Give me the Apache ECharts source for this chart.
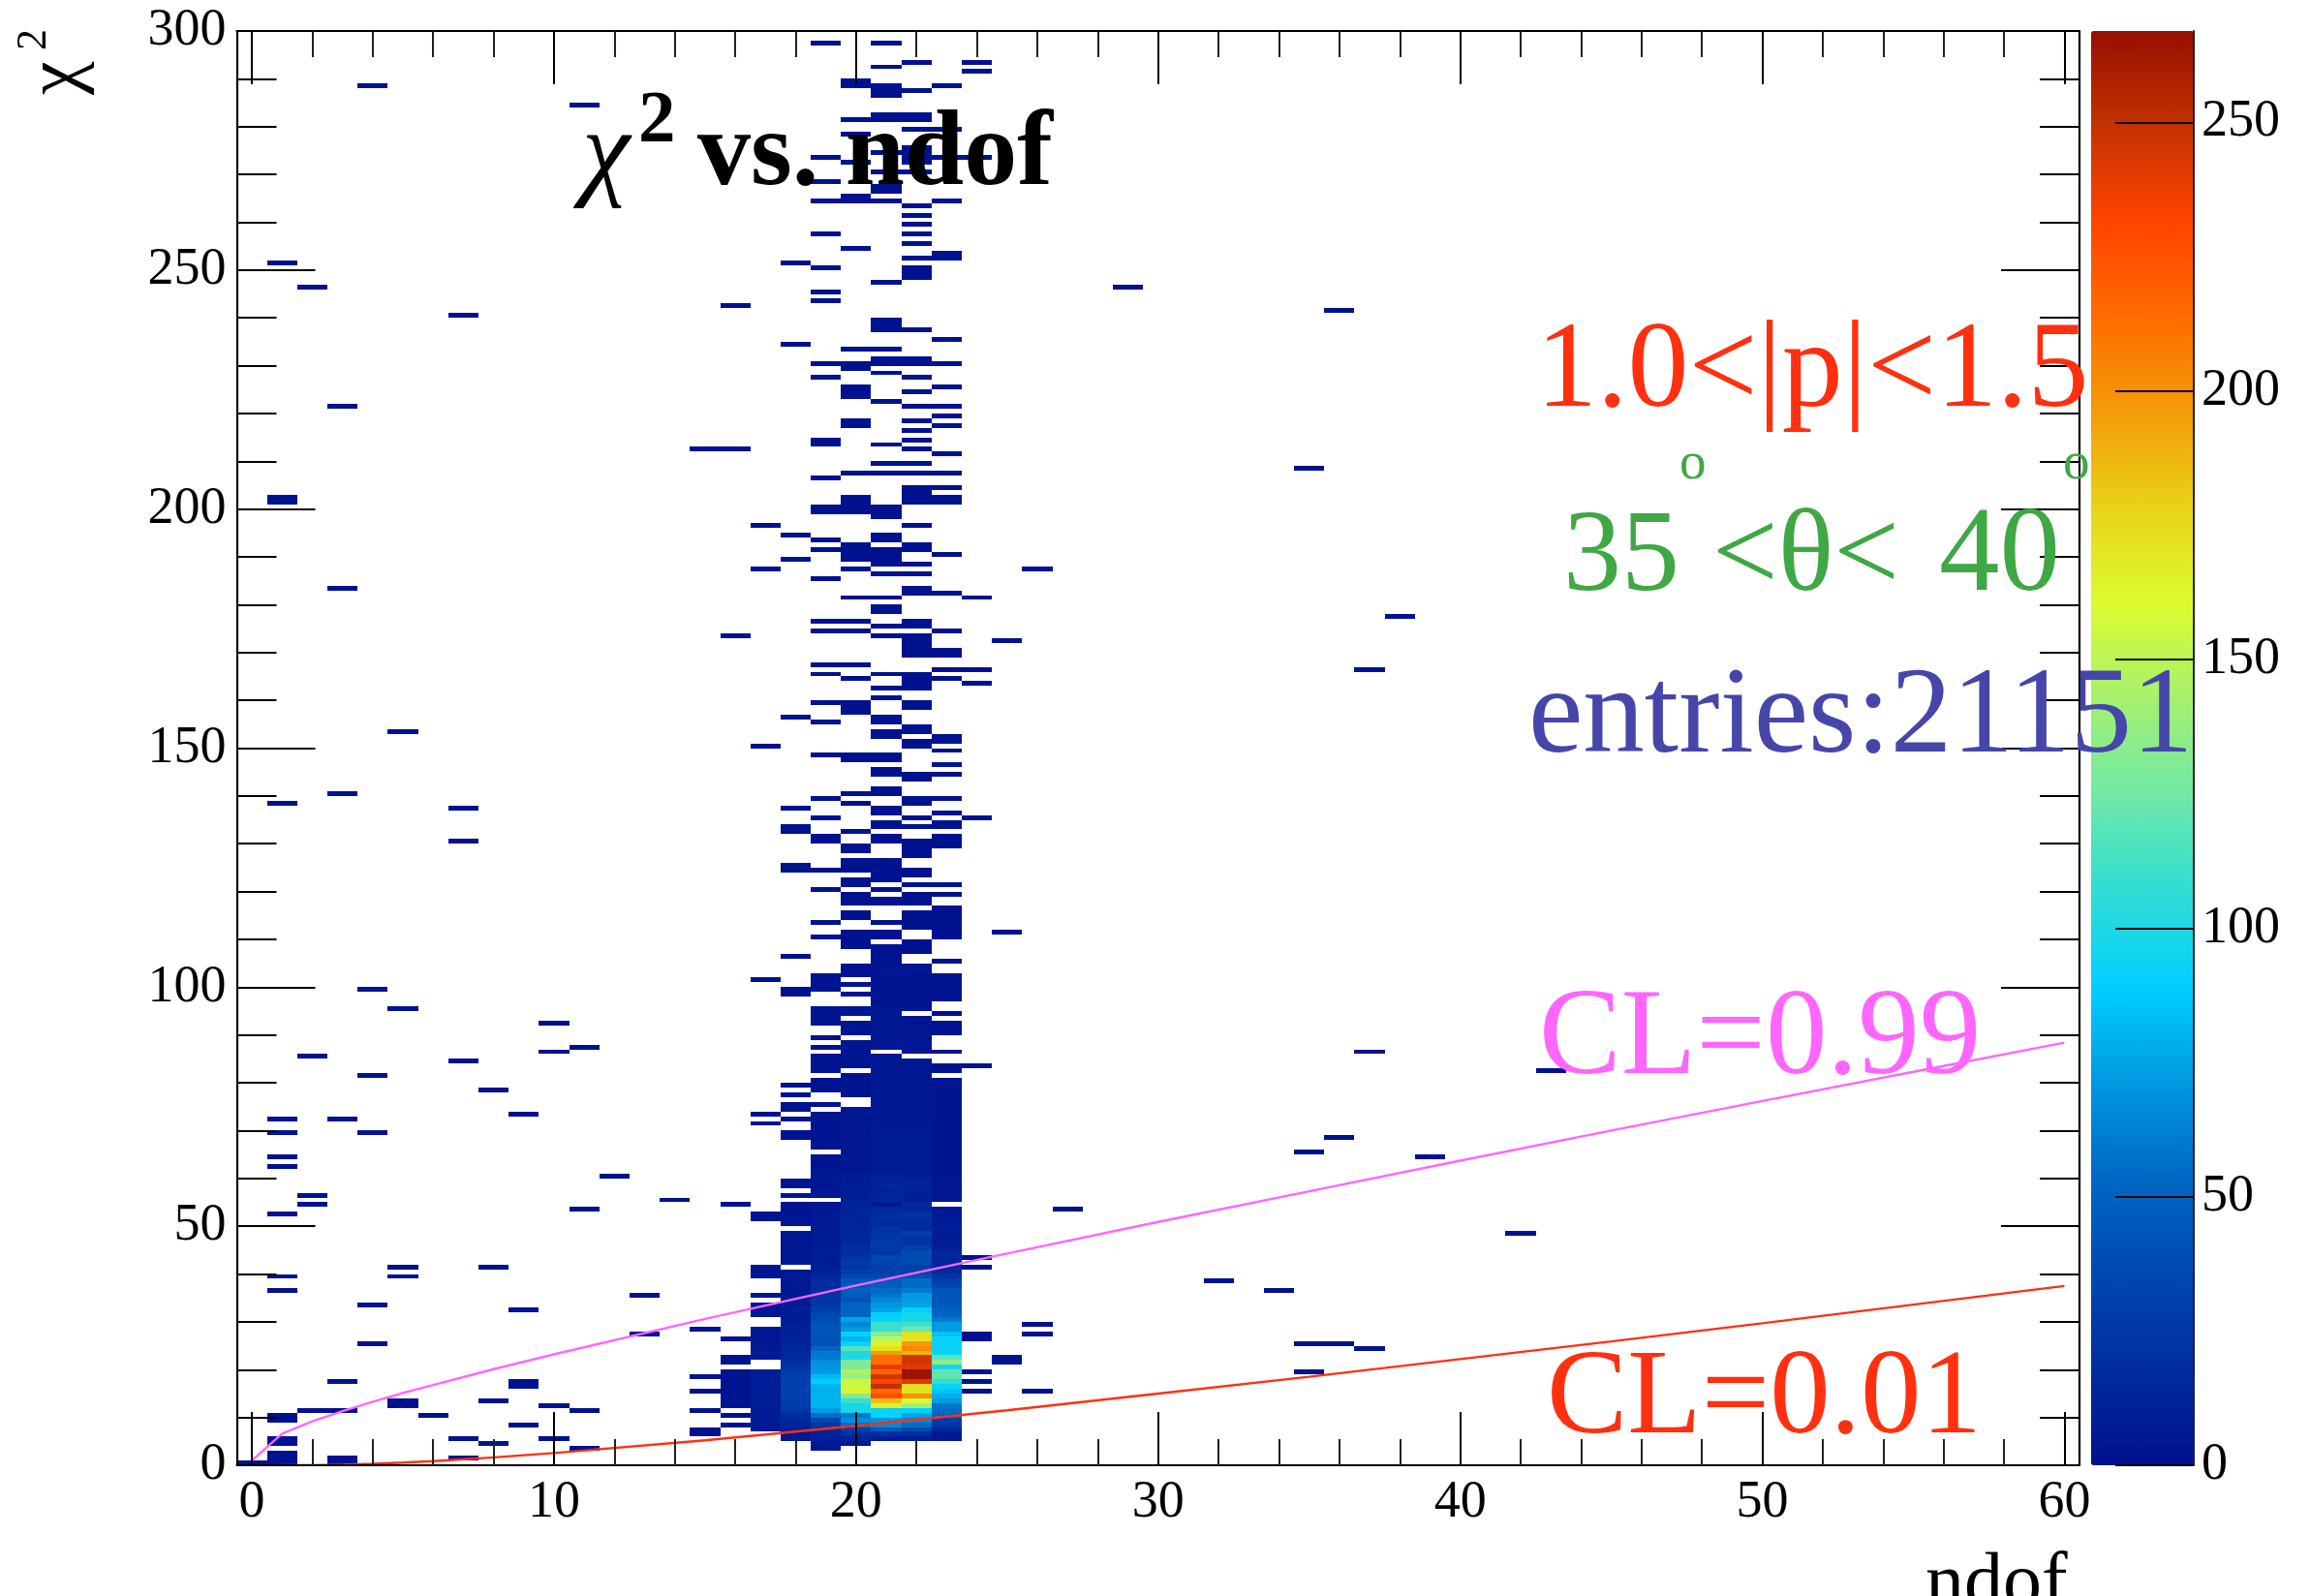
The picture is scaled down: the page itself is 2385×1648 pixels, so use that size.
<!DOCTYPE html>
<html><head><meta charset="utf-8">
<style>html,body{margin:0;padding:0;background:#fff}#c{width:2385px;height:1648px}</style>
<script src="https://cdn.jsdelivr.net/npm/echarts@6/dist/echarts.min.js"></script>
</head><body><div id="c"></div>
<script>
// ---------- DATA (chi2 rows are 1 unit tall, ndof columns are 1 unit wide) ----------
const xTickLabels=[0,10,20,30,40,50,60];
const isolatedCells=[[0,0],[1,0],[1,1],[1,2],[1,4],[1,5],[1,9],[1,10],[1,36],[1,39],[1,52],[1,62],[1,64],[1,69],[1,72],[1,138],[1,201],[1,202],[1,251],
[2,11],[2,54],[2,56],[2,85],[2,246],[3,0],[3,1],[3,11],[3,17],[3,72],[3,140],[3,183],[3,221],[4,25],[4,33],[4,69],[4,81],[4,99],[4,288],
[5,12],[5,13],[5,39],[5,41],[5,95],[5,153],[6,10],[7,1],[7,5],[7,84],[7,130],[7,137],[7,240],[8,4],[8,13],[8,41],[8,78],
[9,8],[9,16],[9,17],[9,32],[9,73],[10,5],[10,12],[10,86],[10,92],[11,3],[11,11],[11,53],[11,87],[11,284],[12,60],[13,27],[13,35],[14,55],
[15,6],[15,7],[15,11],[15,15],[15,18],[15,28],[15,212],[16,8],[16,10],[16,21],[16,22],[16,26],[16,54],[16,173],[16,212],[16,242],
[17,71],[17,73],[17,101],[17,150],[17,187],[17,196],
[24,15],[24,17],[24,19],[24,26],[24,27],[24,41],[24,43],[24,83],[24,135],[24,163],[24,166],[24,181],[24,273],[24,291],[24,293],
[25,21],[25,22],[25,111],[25,172],[26,15],[26,27],[26,29],[26,187],[27,53],[29,246],[32,38],[34,36],[35,19],[35,25],[35,65],[35,208],
[36,25],[36,68],[36,241],[37,24],[37,86],[37,166],[38,177],[39,64],[42,48],[43,82]];
const col16Rows=[12,13,14,15,16,17,18,19];
const col18Upper=[106,124,125,132,133,137,156,189,194,234,251];
const col19Upper=[110,113,120,124,130,131,135,139,148,155,159,165,167,174,176,185,191,193,199,200,206,213,214,227,230,243,245,250,257,264,268,273,297];
const col20Upper=[108,109,110,111,114,115,117,118,119,121,122,124,125,126,128,129,132,138,140,147,148,157,158,159,164,167,174,176,181,187,189,190,191,192,199,200,201,202,207,217,218,223,224,225,229,230,233,254,264,265,272,278,281,288,289];
const col21Upper=[105,106,107,108,110,111,113,117,118,120,122,123,124,125,126,130,131,133,134,136,137,140,141,144,145,147,148,152,153,155,156,160,162,165,173,175,178,179,181,186,188,189,190,191,193,194,198,199,200,207,209,213,222,228,230,231,233,237,238,239,247,264,266,267,270,274,281,282,286,287,288,292,297];
const col22Upper=[107,108,109,112,113,114,115,117,118,119,121,123,124,127,128,129,130,133,135,138,139,143,144,150,151,153,154,158,159,162,163,164,165,169,170,171,172,173,175,176,182,183,186,188,191,192,196,201,202,203,204,207,209,212,214,216,218,221,224,227,230,231,237,248,249,250,252,255,257,259,261,263,270,272,273,274,275,279,281,282,287,293];
const col23Upper=[105,110,111,112,113,114,115,116,119,121,129,130,131,133,134,136,139,144,146,149,151,152,164,166,169,170,174,182,190,201,202,204,207,211,217,219,221,225,230,235,252,253,264,273,279,288];
// mid rows: [firstRow,lastRow,count]
const col18Mid=[[68,69,2],[72,72,1],[74,75,2],[77,77,1],[79,79,1],[98,99,1]];
const col19Mid=[[3,4,6],[61,64,3],[66,73,3],[75,75,2],[78,80,2],[82,85,2],[87,87,1],[89,89,1],[92,95,2],[99,102,2]];
const col20Mid=[[4,4,6],[61,74,4],[77,81,3],[83,88,3],[90,92,3],[94,95,3],[98,98,2],[100,100,2],[102,104,2]];
const col21Mid=[[61,70,7],[71,85,5],[87,95,5],[96,104,3]];
const col22Mid=[[61,70,7],[71,84,5],[86,93,4],[95,104,3]];
const col23Mid=[[61,80,3],[82,83,2],[86,86,1],[90,92,2],[94,94,1],[97,102,2]];
// core counts, rows 5..60
const coreFirstRow=5;
const col17Core=[0,0,5,6,8,8,8,9,9,10,10,9,9,8,8,0,0,6,10,6,6,5,5,5,0,0,4,4,4,0,3,0,0,0,4,4,4,0,0,0,0,0,0,0,0,0,3,3,0,0,0,0,0,0,0,0];
const col18Core=[6,6,8,12,15,18,25,28,30,30,32,32,30,30,28,24,20,16,15,14,14,12,10,10,10,8,8,8,7,7,6,6,6,6,6,5,0,5,5,5,4,4,4,4,0,4,4,3,3,3,0,3,0,3,3,0];
const col19Core=[10,12,16,25,35,55,72,80,80,80,78,80,88,82,72,70,68,60,60,52,40,42,42,42,42,38,35,32,26,22,22,18,18,18,12,12,10,9,8,9,8,7,7,7,8,7,6,6,6,4,0,5,5,4,5,5];
const col20Core=[12,20,30,55,68,60,98,98,110,130,165,155,155,140,145,130,130,100,100,118,92,80,90,72,65,75,52,50,52,42,45,48,45,42,35,30,25,28,22,20,20,15,15,15,14,15,12,14,12,12,10,8,9,10,8,8];
const col21Core=[8,20,45,65,70,92,92,165,185,228,215,250,232,245,218,238,213,213,195,172,165,150,132,110,110,92,90,75,70,65,58,55,48,45,35,32,30,33,35,25,28,28,25,22,22,15,20,18,16,6,15,12,12,14,10,12];
const col22Core=[8,20,35,55,65,75,90,140,158,200,172,172,240,265,265,240,245,245,188,203,197,172,172,125,112,98,98,90,75,72,72,60,55,55,38,30,30,36,38,38,30,22,22,30,18,18,20,22,14,16,10,10,12,10,12,8];
const col23Core=[6,6,12,25,30,50,55,58,72,78,85,92,108,120,120,98,135,118,92,92,92,92,85,72,72,60,52,50,45,42,44,42,35,30,24,18,16,14,14,14,10,8,8,8,10,8,6,6,6,0,5,5,4,4,5,4];
// curves
const cl99X=[0,1,2,3,4,5,6,8,10,15,20,25,30,35,40,45,50,55,60];
const cl99Y=[1,6.6,9.2,11.3,13.3,15.1,16.8,20.1,23.2,30.6,37.6,44.3,50.9,57.3,63.7,70,76.2,82.3,88.4];
const cl01X=[1,2,3,4,5,6,8,10,15,20,25,30,35,40,45,50,55,60];
const cl01Y=[0,0.02,0.11,0.3,0.55,0.87,1.65,2.56,5.23,8.26,11.5,15,18.5,22.2,25.9,29.7,33.6,37.5];
const paletteStops=['#00108f','#002ca0','#0048b0','#0068c4','#0098e0','#00d0ff','#30dcd4','#70e8a8','#a4f070','#dcfc30','#e8d418','#f49c08','#ff6c00','#ff4400','#c43200','#961000'];
const zMax=267;

// ---------- BUILD ----------
const cells=[];
isolatedCells.forEach(c=>cells.push([c[0],c[1],1]));
col16Rows.forEach(r=>cells.push([16,r,2]));
[[18,col18Upper],[19,col19Upper],[20,col20Upper],[21,col21Upper],[22,col22Upper],[23,col23Upper]].forEach(p=>p[1].forEach(r=>cells.push([p[0],r,1])));
[[18,col18Mid],[19,col19Mid],[20,col20Mid],[21,col21Mid],[22,col22Mid],[23,col23Mid]].forEach(p=>p[1].forEach(s=>{for(let r=s[0];r<=s[1];r++)cells.push([p[0],r,s[2]]);}));
[[17,col17Core],[18,col18Core],[19,col19Core],[20,col20Core],[21,col21Core],[22,col22Core],[23,col23Core]].forEach(p=>p[1].forEach((v,i)=>{if(v>0)cells.push([p[0],coreFirstRow+i,v]);}));

const SERIF='"Liberation Serif","Times New Roman",serif';
const pl=244.5,pr=2147,pt=32,pb=1513;
function frameX(pos,labels){return {type:'value',gridIndex:0,position:pos,min:-0.5,max:60.5,splitNumber:6,z:6,
 axisLine:{show:true,onZero:false,lineStyle:{color:'#000',width:2.2}},
 axisTick:{show:true,inside:true,length:55,lineStyle:{color:'#000',width:2}},
 minorTick:{show:true,splitNumber:5,length:27,lineStyle:{color:'#222',width:2}},
 splitLine:{show:false},
 axisLabel:{show:labels,showMinLabel:false,showMaxLabel:false,color:'#000',fontFamily:SERIF,fontSize:54,margin:12,
   formatter:v=>xTickLabels.includes(v)?String(v):''}};}
function frameY(pos,labels){return {type:'value',gridIndex:0,position:pos,min:0,max:300,interval:50,z:6,
 axisLine:{show:true,onZero:false,lineStyle:{color:'#000',width:2.2}},
 axisTick:{show:true,inside:true,length:81,lineStyle:{color:'#000',width:2}},
 minorTick:{show:true,splitNumber:5,length:41,lineStyle:{color:'#000',width:2}},
 splitLine:{show:false},
 axisLabel:{show:labels,color:'#000',fontFamily:SERIF,fontSize:54,margin:11,padding:[6,0,0,0]}};}

// y is the wanted baseline; the library places a text by its top
const TOP_TO_BASE=0.82;
function t(text,x,y,size,color,extra){return Object.assign({type:'text',x:x,y:y-TOP_TO_BASE*size,z:100,silent:true,
 style:Object.assign({text:text,fontFamily:SERIF,fontSize:size,fill:color,textAlign:'left',textVerticalAlign:'top'},extra&&extra.style||{})},extra&&extra.el||{});}
function tRot(text,x,y,size,color){return {type:'text',x:x-TOP_TO_BASE*size,y:y,rotation:Math.PI/2,z:100,silent:true,
 style:{text:text,fontFamily:SERIF,fontSize:size,fill:color,textAlign:'left',textVerticalAlign:'top'}};}

const RED='#ff3010',GREEN='#3fa845',BLUE='#4646aa',PINK='#ff66ff';
const option={
 animation:false,backgroundColor:'#fff',
 grid:[{left:pl,width:pr-pl,top:pt,height:pb-pt,containLabel:false},
       {left:2159,width:106,top:pt,height:pb-pt,containLabel:false}],
 xAxis:[frameX('bottom',true),frameX('top',false),
   {type:'value',gridIndex:1,min:0,max:1,show:false}],
 yAxis:[frameY('left',true),frameY('right',false),
   {type:'value',gridIndex:1,position:'right',min:0,max:zMax,splitNumber:5,z:8,
    axisLine:{show:true,onZero:false,lineStyle:{color:'#222',width:2}},
    axisTick:{show:true,inside:true,length:81,lineStyle:{color:'#000',width:2},
      customValues:[0,50,100,150,200,250]},
    splitLine:{show:false},
    axisLabel:{color:'#000',fontFamily:SERIF,fontSize:54,margin:8,padding:[6,0,0,0],customValues:[0,50,100,150,200,250]}}],
 visualMap:{type:'continuous',show:true,seriesIndex:0,dimension:2,min:0,max:zMax,left:2159,top:pt,itemWidth:106,itemHeight:pb-pt,
   text:null,showLabel:false,calculable:false,realtime:false,hoverLink:false,padding:0,z:3,inRange:{color:paletteStops},textStyle:{fontSize:0,color:'rgba(0,0,0,0)'}},
 series:[
  {type:'custom',xAxisIndex:0,yAxisIndex:0,data:cells,encode:{x:0,y:1},z:2,clip:true,silent:true,
   renderItem:(p,api)=>{
     const x=api.value(0),y=api.value(1);
     const a=api.coord([x-0.5,y+1]),b=api.coord([x+0.5,y]);
     const L=Math.round(a[0]),R=Math.round(b[0]),T=Math.round(a[1]),B=Math.round(b[1]);
     return {type:'rect',shape:{x:L,y:T,width:R-L,height:B-T},style:{fill:api.visual('color')}};
   }},
  {type:'line',xAxisIndex:0,yAxisIndex:0,data:cl99X.map((x,i)=>[x,cl99Y[i]]),symbol:'none',z:4,silent:true,lineStyle:{color:PINK,width:2.4}},
  {type:'line',xAxisIndex:0,yAxisIndex:0,data:cl01X.map((x,i)=>[x,cl01Y[i]]),symbol:'none',z:4,silent:true,lineStyle:{color:RED,width:2.4}}
 ],
 graphic:{elements:[
  t('χ',601,197,112,'#000',{style:{fontStyle:'italic'}}),
  t('2',659,151,77,'#000',{style:{fontWeight:'bold'}}),
  t('vs. ndof',720,197,110,'#000',{style:{fontWeight:'bold'}}),
  t('1.0<|p|<1.5',1586,426,126,RED),
  t('35',1614,616,120,GREEN),
  t('o',1734,497,55,GREEN),
  t('<θ<',1768,616,120,GREEN),
  t('40',2002,616,125,GREEN),
  t('o',2130,497,55,GREEN),
  t('entries:21151',1578,783,127,BLUE),
  t('CL=0.99',1589,1115,127,PINK),
  t('CL=0.01',1597,1486,125,RED),
  t('ndof',1988,1663,80,'#000'),
  tRot('χ',84,98,78,'#000'),
  tRot('2',50,52,44,'#000')
 ]}
};
const chart=echarts.init(document.getElementById('c'),null,{renderer:'canvas',width:2385,height:1648});
chart.setOption(option);
</script></body></html>
